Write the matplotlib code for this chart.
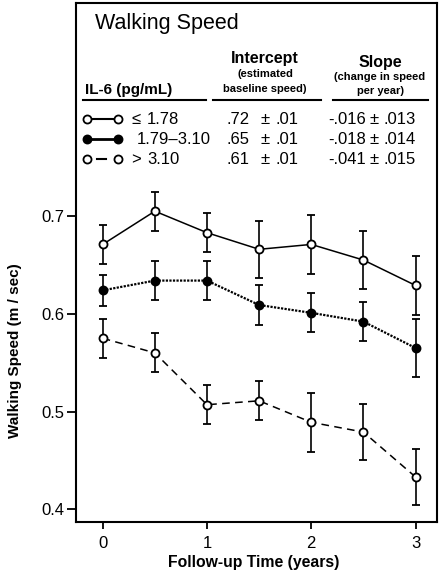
import matplotlib
matplotlib.use("Agg")
import matplotlib.pyplot as plt
from matplotlib.lines import Line2D

plt.rcParams['font.family'] = ['Liberation Sans', 'DejaVu Sans']

years = [0, 0.5, 1, 1.5, 2, 2.5, 3]
low = [0.671, 0.705, 0.683, 0.666, 0.671, 0.655, 0.629]
low_err = [0.020, 0.020, 0.020, 0.029, 0.030, 0.030, 0.030]
mid = [0.624, 0.634, 0.634, 0.609, 0.601, 0.592, 0.565]
mid_err = [0.016, 0.020, 0.020, 0.020, 0.020, 0.020, 0.030]
high = [0.575, 0.560, 0.507, 0.511, 0.489, 0.479, 0.433]
high_err = [0.020, 0.020, 0.020, 0.020, 0.030, 0.029, 0.029]

groups = ["\u2264 1.78", "1.79\u20133.10", "> 3.10"]
intercepts = [".72", ".65", ".61"]
intercept_se = [".01", ".01", ".01"]
slopes = ["-.016", "-.018", "-.041"]
slope_se = [".013", ".014", ".015"]
yticks = [0.4, 0.5, 0.6, 0.7]
xticks = [0, 1, 2, 3]

W, H = 440, 574
fig = plt.figure(figsize=(W / 100, H / 100), dpi=100)
L, R, T, B = 76, 437, 3, 522
ax = fig.add_axes([L / W, 1 - B / H, (R - L) / W, (B - T) / H])

def fx(px):
    return px / W

def fy(py):
    return 1 - py / H

lw = 1.1
common = dict(color='black', lw=lw, elinewidth=1.2, capsize=3.2, capthick=1.2,
              markersize=5.8, markeredgewidth=1.3)
ax.errorbar(years, low, yerr=low_err, fmt='o', ls='-', mfc='white', mec='black', **common)
ax.errorbar(years, mid, yerr=mid_err, fmt='o', ls=(0, (1, 0.6)), mfc='black', mec='black',
            **{**common, 'lw': 1.6})
ax.errorbar(years, high, yerr=high_err, fmt='o', ls=(0, (5, 3.5)), mfc='white', mec='black', **common)

ax.set_xlim(-0.256, 3.205)
ax.set_ylim(0.387, 0.918)
ax.set_xticks(xticks)
ax.set_xticklabels([str(x) for x in xticks])
ax.set_yticks(yticks)
ax.set_yticklabels([f"{y:.1f}" for y in yticks])
for s in ax.spines.values():
    s.set_linewidth(1.5)
ax.tick_params(axis='y', length=6.7, width=1.3, pad=1.5, labelsize=12)
ax.tick_params(axis='x', length=5, width=1.3, pad=5, labelsize=12)

fig.text(fx(15), fy(351), "Walking Speed (m / sec)", rotation=90, ha='center', va='center',
         fontsize=11, fontweight='bold')
fig.text(fx(254), fy(563), "Follow-up Time (years)", ha='center', va='center',
         fontsize=11.3, fontweight='bold')

# Title and table
fig.text(fx(95), fy(23), "Walking Speed", ha='left', va='center', fontsize=15.5)
fig.text(fx(85), fy(90), "IL-6 (pg/mL)", ha='left', va='center', fontsize=11, fontweight='bold')
fig.text(fx(265), fy(58), "Intercept", ha='center', va='center', fontsize=11.5, fontweight='bold')
fig.text(fx(265), fy(74), "(estimated", ha='center', va='center', fontsize=8, fontweight='bold')
fig.text(fx(265), fy(89), "baseline speed)", ha='center', va='center', fontsize=8, fontweight='bold')
fig.text(fx(380), fy(62), "Slope", ha='center', va='center', fontsize=11.5, fontweight='bold')
fig.text(fx(380), fy(77), "(change in speed", ha='center', va='center', fontsize=8, fontweight='bold')
fig.text(fx(380), fy(91), "per year)", ha='center', va='center', fontsize=8, fontweight='bold')

for x0, x1 in [(83, 206), (213, 321), (333, 428)]:
    fig.add_artist(Line2D([fx(x0), fx(x1)], [fy(100), fy(100)], color='black', lw=1.5,
                          transform=fig.transFigure))

vfs = 12
rows = [119, 139.3, 159.3]
for i, yy in enumerate(rows):
    face = 'black' if i == 1 else 'white'
    if i == 2:
        fig.add_artist(Line2D([fx(97), fx(106)], [fy(yy), fy(yy)], color='black', lw=1.5,
                              transform=fig.transFigure))
    else:
        fig.add_artist(Line2D([fx(87), fx(118)], [fy(yy), fy(yy)], color='black',
                              lw=1.5 if i == 0 else 2.0, transform=fig.transFigure))
    fig.add_artist(Line2D([fx(87), fx(118)], [fy(yy), fy(yy)], ls='none', marker='o',
                          ms=5.8, mfc=face, mec='black', mew=1.3, transform=fig.transFigure))
    g = groups[i]
    if g.startswith("1.79"):
        fig.text(fx(137), fy(yy), g, ha='left', va='center', fontsize=vfs)
    else:
        sym, num = g.split(" ")
        fig.text(fx(131), fy(yy), sym, ha='left', va='center', fontsize=vfs)
        fig.text(fx(147), fy(yy), num, ha='left', va='center', fontsize=vfs)
    fig.text(fx(227), fy(yy), intercepts[i], ha='left', va='center', fontsize=vfs)
    fig.text(fx(260), fy(yy), "\u00b1", ha='left', va='center', fontsize=vfs)
    fig.text(fx(275), fy(yy), intercept_se[i], ha='left', va='center', fontsize=vfs)
    fig.text(fx(328), fy(yy), slopes[i], ha='left', va='center', fontsize=vfs)
    fig.text(fx(369), fy(yy), "\u00b1", ha='left', va='center', fontsize=vfs)
    fig.text(fx(383), fy(yy), slope_se[i], ha='left', va='center', fontsize=vfs)

fig.savefig("out.png", dpi=100)
